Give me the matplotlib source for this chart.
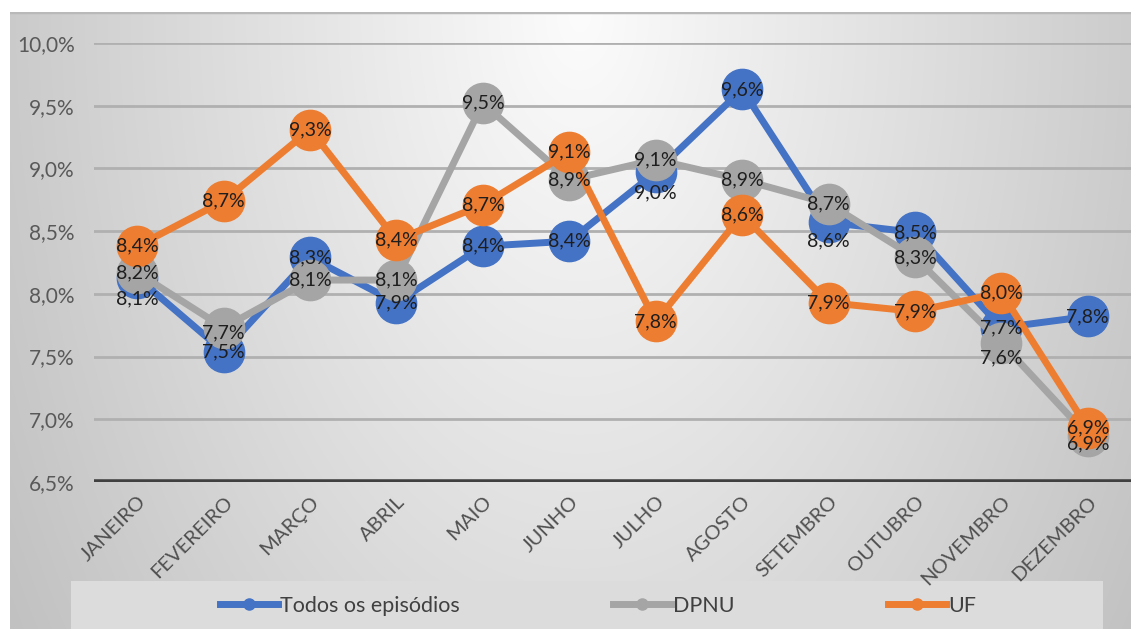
import numpy as np
import matplotlib
matplotlib.use("Agg")
import matplotlib.pyplot as plt
from matplotlib.lines import Line2D
from matplotlib.patches import Rectangle

plt.rcParams['font.family'] = ['Lato', 'DejaVu Sans']

# Monthly series (%)
months = ["JANEIRO", "FEVEREIRO", "MARÇO", "ABRIL", "MAIO", "JUNHO",
          "JULHO", "AGOSTO", "SETEMBRO", "OUTUBRO", "NOVEMBRO", "DEZEMBRO"]
todos = [8.13, 7.54, 8.29, 7.93, 8.38, 8.42, 8.97, 9.63, 8.57, 8.49, 7.73, 7.82]
dpnu = [8.17, 7.73, 8.11, 8.11, 9.52, 8.91, 9.07, 8.91, 8.72, 8.29, 7.61, 6.87]
uf = [8.38, 8.74, 9.31, 8.43, 8.71, 9.13, 7.78, 8.63, 7.93, 7.86, 8.01, 6.93]
series_names = ["Todos os episódios", "DPNU", "UF"]
y_ticks = [6.5, 7.0, 7.5, 8.0, 8.5, 9.0, 9.5, 10.0]

colors = ["#4472C4", "#A5A5A5", "#ED7D31"]

# vertical nudges (points, negative = down) applied to a few data labels
label_shift = [
    [-15, 0, 0, 0, 0, 0, -15, 0, -13, 0, 0, 0],
    [0, -4, 0, 0, 0, 0, 0, 0, 0, 0, -11, -6],
    [0, 0, 0, 0, 0, 0, 0, 0, 0, 0, 0, 0],
]

W, H = 1131, 629
fig = plt.figure(figsize=(W / 100, H / 100), dpi=100)
fig.patch.set_facecolor("white")

# chart-area background with a soft radial grey gradient
bg = fig.add_axes([10 / W, 0, 1 - 10 / W, (H - 12) / H], zorder=-10)
gx = np.linspace(10, W, 400)
gy = np.linspace(12, H, 250)
X, Y = np.meshgrid(gx, gy)
r = np.sqrt(((X - 580) / 600) ** 2 + ((Y - 12) / 1000) ** 2)
v = np.clip(252 - 52 * r, 185, 252) / 255.0
bg.imshow(np.dstack([v, v, v]), extent=[0, 1, 0, 1], aspect="auto",
          origin="upper", interpolation="bilinear")
bg.axhline(1, color="#b9b9b9", lw=2.5)
bg.set_xlim(0, 1)
bg.set_ylim(0, 1)
bg.axis("off")

ax = fig.add_axes([94 / W, (H - 482) / H, (W - 94) / W, (482 - 43) / H])
ax.set_facecolor("none")
x = np.arange(len(months))
ax.set_xlim(-0.5, len(months) - 0.5)
ax.set_ylim(6.5, 10.0)

for t in y_ticks[1:]:
    ax.axhline(t, color="#b0b0b0", lw=2, zorder=1)
ax.axhline(6.5, color="#404040", lw=4, zorder=2)

all_series = [todos, dpnu, uf]
for vals, c, name in zip(all_series, colors, series_names):
    ax.plot(x, vals, color=c, lw=5, marker="o", ms=29, mec=c, mfc=c,
            zorder=3, label=name, clip_on=False)

for vals, shifts in zip(all_series, label_shift):
    for xi, val, dy in zip(x, vals, shifts):
        ax.annotate(f"{val:.1f}%".replace(".", ","), (xi, val),
                    xytext=(0, dy), textcoords="offset points",
                    ha="center", va="center", fontsize=14, color="#1e1e1e",
                    zorder=5)

ax.set_yticks(y_ticks)
ax.set_yticklabels([f"{t:.1f}%".replace(".", ",") for t in y_ticks],
                   fontsize=15, color="#595959")
ax.set_xticks(x)
ax.set_xticklabels(months, rotation=45, ha="right", va="top",
                   rotation_mode="anchor", fontsize=14.5, color="#505050")
ax.tick_params(axis="both", length=0)
ax.tick_params(axis="y", pad=14)
ax.tick_params(axis="x", pad=8)
for s in ax.spines.values():
    s.set_visible(False)

# legend panel
fig.patches.append(Rectangle((71 / W, 0), (1103 - 71) / W, (H - 581) / H,
                             transform=fig.transFigure, facecolor="#dcdcdc",
                             edgecolor="none", zorder=-5))
handles = [Line2D([0], [0], color=c, lw=5, marker="o", ms=8, mec=c, mfc=c)
           for c in colors]
fig.legend(handles, series_names, loc="center left", ncol=3,
           bbox_to_anchor=(220 / W, (H - 606) / H), frameon=False,
           fontsize=15.5, handlelength=2.7, columnspacing=7.1,
           labelcolor="#404040", handletextpad=0.1, borderaxespad=0,
           borderpad=0)

fig.savefig("out.png", dpi=100)
